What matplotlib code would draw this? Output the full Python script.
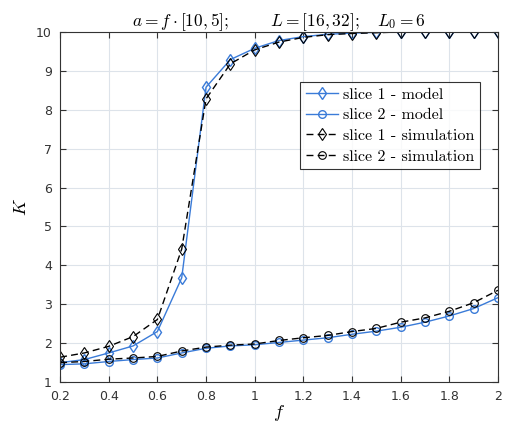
import numpy as np
import matplotlib
matplotlib.use("Agg")
from matplotlib import pyplot as plt

plt.rcParams['mathtext.fontset'] = 'cm'
plt.rcParams['axes.unicode_minus'] = False

# f values (x axis)
f = [0.2, 0.3, 0.4, 0.5, 0.6, 0.7, 0.8, 0.9, 1.0, 1.1,
     1.2, 1.3, 1.4, 1.5, 1.6, 1.7, 1.8, 1.9, 2.0]

# K values
slice1_model = [1.50, 1.58, 1.75, 1.93, 2.30, 3.68, 8.58, 9.29, 9.58, 9.78,
                9.88, 9.94, 9.97, 9.99, 10.0, 10.0, 10.0, 10.0, 10.0]
slice2_model = [1.45, 1.47, 1.53, 1.58, 1.62, 1.75, 1.87, 1.93, 1.96, 2.02,
                2.08, 2.14, 2.23, 2.31, 2.41, 2.54, 2.70, 2.89, 3.17]
slice1_sim = [1.64, 1.75, 1.92, 2.17, 2.61, 4.42, 8.28, 9.18, 9.54, 9.74,
              9.86, 9.93, 9.96, 9.98, 10.0, 10.0, 10.0, 10.0, 10.0]
slice2_sim = [1.50, 1.53, 1.59, 1.62, 1.66, 1.80, 1.90, 1.95, 1.98, 2.07,
              2.14, 2.20, 2.30, 2.38, 2.54, 2.65, 2.82, 3.04, 3.36]

blue = '#3a7bd8'

fig = plt.figure(figsize=(5.05, 4.26), dpi=100)
ax = fig.add_axes([0.119, 0.103, 0.867, 0.822])

ax.plot(f, slice1_model, '-', color=blue, lw=1.0, marker='d', ms=6.5,
        mfc='none', mec=blue, mew=1.0, label='slice 1 - model')
ax.plot(f, slice2_model, '-', color=blue, lw=1.0, marker='o', ms=5.5,
        mfc='none', mec=blue, mew=1.0, label='slice 2 - model')
ax.plot(f, slice1_sim, '--', color='black', lw=1.0, marker='d', ms=6.5,
        mfc='none', mec='black', mew=0.8, dashes=(5, 3), label='slice 1 - simulation')
ax.plot(f, slice2_sim, '--', color='black', lw=1.0, marker='o', ms=5.5,
        mfc='none', mec='black', mew=0.8, dashes=(5, 3), label='slice 2 - simulation')

ax.set_xlim(0.2, 2)
ax.set_ylim(1, 10)
ax.set_xticks(np.arange(0.2, 2.01, 0.2))
ax.set_xticklabels(['0.2', '0.4', '0.6', '0.8', '1', '1.2', '1.4', '1.6', '1.8', '2'])
ax.set_yticks(range(1, 11))

ax.grid(True, color='#dde3ea', lw=0.8)
ax.set_axisbelow(True)
ax.tick_params(direction='in', top=True, right=True, labelsize=9,
               colors='#333333', length=4)
ax.tick_params(axis='x', pad=6)
ax.tick_params(axis='y', pad=6)
for s in ax.spines.values():
    s.set_color('#333333')
    s.set_linewidth(0.8)

ax.set_xlabel('$f$', fontsize=13, labelpad=0)
ax.set_ylabel('$K$', fontsize=13, labelpad=4)
ax.set_title(r'$a = f\cdot[10,5];\qquad\;\; L=[16,32];\quad L_0 = 6$',
             fontsize=12.5, pad=4)

leg = ax.legend(loc='upper right', bbox_to_anchor=(0.958, 0.857),
                prop={'family': 'cmr10', 'size': 11.5}, frameon=True,
                fancybox=False, edgecolor='black', handlelength=2.0,
                handletextpad=0.3, borderpad=0.35, labelspacing=0.4,
                borderaxespad=0)
leg.get_frame().set_linewidth(0.8)

fig.savefig('out.png', dpi=100)
